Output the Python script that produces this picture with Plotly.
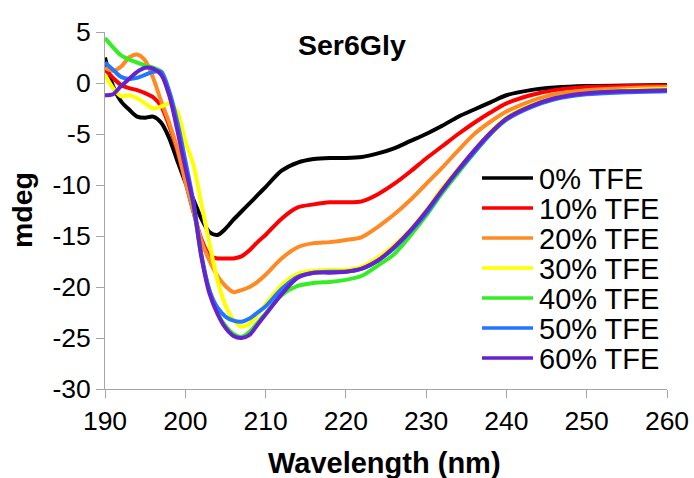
import plotly.graph_objects as go

wavelength = [190,191,192,193,194,195,196,197,198,199,200,201,202,203,204,205,206,207,208,209,210,
              212,214,216,218,220,222,224,226,228,230,232,234,236,238,240,243,246,250,255,260]

tfe_0 = [2.5,-0.3,-1.8,-2.6,-3.3,-3.4,-3.3,-3.9,-5.4,-7.6,-9.7,-11.4,-13.3,-14.6,-14.9,-14.3,-13.4,-12.6,-11.8,-11.0,-10.2,
         -8.6,-7.8,-7.45,-7.35,-7.35,-7.25,-6.9,-6.4,-5.7,-5.0,-4.2,-3.3,-2.6,-1.9,-1.2,-0.7,-0.45,-0.3,-0.25,-0.2]
tfe_10 = [1.3,0.5,-0.2,-0.5,-0.7,-1.0,-1.4,-2.3,-4.2,-6.6,-9.6,-12.6,-15.3,-16.9,-17.2,-17.2,-17.2,-17.0,-16.4,-15.6,-14.9,
          -13.3,-12.2,-11.9,-11.7,-11.7,-11.6,-10.9,-9.9,-8.7,-7.4,-6.2,-5.0,-3.9,-2.9,-2.0,-1.2,-0.7,-0.4,-0.3,-0.25]
tfe_20 = [1.5,1.2,1.6,2.5,2.8,2.2,0.5,-1.8,-3.9,-6.4,-9.6,-12.5,-15.5,-17.4,-18.9,-19.9,-20.5,-20.3,-20.0,-19.5,-18.8,
          -17.2,-16.1,-15.7,-15.6,-15.4,-15.1,-14.1,-12.9,-11.5,-9.9,-8.3,-6.6,-5.0,-3.8,-2.8,-1.8,-1.1,-0.7,-0.5,-0.4]
tfe_30 = [0.8,-0.5,-1.3,-1.2,-1.5,-2.0,-2.5,-2.3,-2.0,-2.8,-5.7,-8.0,-11.8,-15.7,-19.3,-21.8,-23.2,-23.9,-23.6,-22.7,-21.7,
          -19.8,-18.7,-18.4,-18.3,-18.3,-18.0,-17.1,-15.9,-14.4,-12.5,-10.3,-8.4,-6.6,-4.8,-3.4,-2.2,-1.5,-1.0,-0.7,-0.6]
tfe_40 = [4.4,3.5,2.7,2.3,2.0,1.7,1.5,1.1,-1.2,-4.0,-8.0,-12.0,-17.0,-20.3,-22.5,-23.8,-24.6,-24.9,-24.4,-23.5,-22.6,
          -20.8,-19.9,-19.6,-19.5,-19.3,-18.9,-17.9,-16.8,-15.0,-13.0,-10.8,-8.8,-6.8,-5.0,-3.6,-2.3,-1.5,-1.0,-0.8,-0.7]
tfe_50 = [2.0,1.3,0.6,0.4,0.5,0.8,1.1,1.1,-0.8,-3.8,-7.6,-11.6,-16.8,-20.3,-22.0,-22.9,-23.3,-23.4,-23.1,-22.5,-21.9,
          -20.2,-19.0,-18.6,-18.5,-18.5,-18.2,-17.4,-16.2,-14.6,-12.8,-10.6,-8.6,-6.8,-5.0,-3.6,-2.4,-1.6,-1.1,-0.9,-0.8]
tfe_60 = [-1.2,-1.1,-0.3,0.4,1.1,1.5,1.4,0.8,-1.2,-4.6,-8.3,-11.8,-17.0,-20.6,-22.6,-24.0,-24.8,-25.0,-24.7,-23.7,-22.7,
          -20.7,-19.1,-18.6,-18.6,-18.5,-18.2,-17.4,-16.1,-14.5,-12.6,-10.5,-8.5,-6.6,-4.9,-3.5,-2.3,-1.5,-1.0,-0.8,-0.7]

series_names = ["0% TFE", "10% TFE", "20% TFE", "30% TFE", "40% TFE", "50% TFE", "60% TFE"]
series_values = [tfe_0, tfe_10, tfe_20, tfe_30, tfe_40, tfe_50, tfe_60]
colors = ["#000000", "#FF0000", "#FF8A24", "#FFFF00", "#33EE22", "#2277FF", "#6622CC"]

x_ticks = [190, 200, 210, 220, 230, 240, 250, 260]
y_ticks = [5, 0, -5, -10, -15, -20, -25, -30]

FONT = "Liberation Sans, Arial, sans-serif"

fig = go.Figure()
for name, vals, col in zip(series_names, series_values, colors):
    fig.add_trace(go.Scatter(x=wavelength, y=vals, mode="lines", name=name,
                             line=dict(color=col, width=4, shape="spline", smoothing=0.8),
                             showlegend=False))

# plot area geometry in pixels (for legend placement)
L, R, T, B = 105, 667, 32, 389
def px_x(px):
    return (px - L) / (R - L)
def px_y(py):
    return (B - py) / (B - T)

shapes = []
annotations = []
for i, (name, col) in enumerate(zip(series_names, colors)):
    yc = 178 + 30 * i
    shapes.append(dict(type="line", xref="paper", yref="paper",
                       x0=px_x(482), x1=px_x(533), y0=px_y(yc), y1=px_y(yc),
                       line=dict(color=col, width=3.3)))
    annotations.append(dict(text=name, xref="paper", yref="paper",
                            x=px_x(537), y=px_y(yc + 1), xanchor="left", yanchor="middle",
                            height=28, valign="middle",
                            showarrow=False, font=dict(family=FONT, size=29, color="#000000")))

annotations.append(dict(text="<b>Ser6Gly</b>", xref="paper", yref="paper",
                        x=px_x(352), y=px_y(45), xanchor="center", yanchor="middle",
                        showarrow=False, font=dict(family=FONT, size=28.5, color="#000000")))
annotations.append(dict(text="<b>Wavelength (nm)</b>", xref="paper", yref="paper",
                        x=px_x(384), y=px_y(463), xanchor="center", yanchor="middle",
                        showarrow=False, font=dict(family=FONT, size=29, color="#000000")))
annotations.append(dict(text="<b>mdeg</b>", xref="paper", yref="paper",
                        x=px_x(22), y=px_y(210), xanchor="center", yanchor="middle", textangle=-90,
                        showarrow=False, font=dict(family=FONT, size=28.5, color="#000000")))

fig.update_layout(
    width=694, height=478,
    margin=dict(l=L, r=694 - R, t=T, b=478 - B, autoexpand=False),
    paper_bgcolor="white", plot_bgcolor="white",
    font=dict(family=FONT, size=26, color="#000000"),
    shapes=shapes, annotations=annotations,
    showlegend=False,
)
fig.update_xaxes(range=[190, 260], tickvals=x_ticks, ticktext=[str(v) for v in x_ticks],
                 showgrid=False, zeroline=False, showline=True, linecolor="#A6A6A6", linewidth=1,
                 ticks="outside", ticklen=8, tickcolor="#A6A6A6", automargin=False,
                 tickfont=dict(family=FONT, size=26.5, color="#000000"))
fig.update_yaxes(range=[-30, 5], tickvals=y_ticks, ticktext=[str(v) for v in y_ticks],
                 showgrid=False, zeroline=False, showline=True, linecolor="#A6A6A6", linewidth=1,
                 ticks="outside", ticklen=8, tickcolor="#A6A6A6", automargin=False,
                 tickfont=dict(family=FONT, size=26.5, color="#000000"))

fig.write_html("out.html")
